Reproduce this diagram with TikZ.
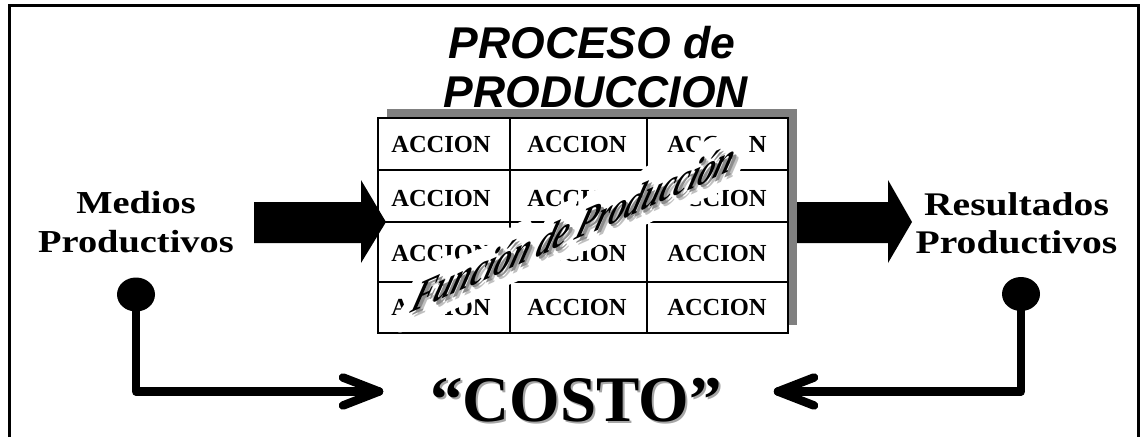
\documentclass[tikz,border=0pt]{standalone}
\usepackage{fontspec}
\setmainfont{Liberation Serif}
\newfontfamily\titlefont{Liberation Sans}
\newfontfamily\wideserif[FakeStretch=1.2]{Liberation Serif}
\newfontfamily\halofam[BoldItalicFeatures={FakeBold=80}]{Liberation Serif}
\usetikzlibrary{calc,shapes.geometric}
\definecolor{shadowgray}{RGB}{128,128,128}
\tikzset{
  cellline/.style={draw=black, line width=1.1pt},
  actxt/.style={font=\fontsize{24.5}{28}\selectfont\bfseries, inner sep=0pt, anchor=base},
  sidetxt/.style={font=\wideserif\fontsize{32}{39}\selectfont\bfseries, inner sep=0pt, anchor=base},
  sidetxtR/.style={font=\wideserif\fontsize{33}{39}\selectfont\bfseries, inner sep=0pt, anchor=base},
  titletxt/.style={font=\titlefont\fontsize{44.5}{49}\selectfont\bfseries\itshape, inner sep=0pt, anchor=base},
  slantup/.style={cm={0.915,0.404,0.42,1.27,(0,0)}},
  fptxt/.style={font=\fontsize{35.8}{40}\selectfont\bfseries\itshape, inner sep=0pt, anchor=base, slantup},
  fphalo/.style={font=\halofam\fontsize{35.8}{40}\selectfont\bfseries\itshape, inner sep=0pt, anchor=base, slantup, text=white},
  costotxt/.style={font=\fontsize{65}{70}\selectfont\bfseries, inner sep=0pt, anchor=base},
  conn/.style={line width=8.5pt, line cap=round, line join=round},
  dotnode/.style={ellipse, fill=black, minimum width=38pt, minimum height=34pt, inner sep=0pt},
  blockarrow/.style={fill=black},
}
\begin{document}
\begin{tikzpicture}[x=1pt,y=-1pt]
\useasboundingbox (0,0) rectangle (1141,437);
\fill[white] (0,0) rectangle (1141,437);
% frame (open at bottom)
\draw[line width=3pt, line join=miter] (9.5,437) -- (9.5,5.5) -- (1138.5,5.5) -- (1138.5,437);

% title
\node[titletxt] (title1) at (592,58) {PROCESO de};
\node[titletxt] (title2) at (596,107) {PRODUCCION};

% right block arrow (behind table)
\fill[blockarrow] (790,202) -- (888,202) -- (888,180) -- (912,222) -- (888,263) -- (888,243) -- (790,243) -- cycle;

% table shadow and table
\fill[shadowgray] (387,109) rectangle (797,325);
\fill[white] (378,118) rectangle (788,333);
\draw[cellline] (378,118) rectangle (788,333);
\draw[cellline] (510,118) -- (510,333);
\draw[cellline] (647,118) -- (647,333);
\draw[cellline] (378,170) -- (788,170);
\draw[cellline] (378,222) -- (788,222);
\draw[cellline] (378,282) -- (788,282);

\foreach \y [count=\r] in {152.7,206.7,261.7,315}{
  \foreach \x [count=\c] in {441,577,717}{
    \node[actxt] (a\r\c) at (\x,\y) {ACCION};
  }
}

% overlay text (slanted up) with white halo and soft shadow
\begin{scope}[line join=round, miter limit=1]
\node[fphalo] (fphalo) at (570,242.5) {Función de Producción};
\end{scope}
\node[fptxt, text=black!25] (fpshadow2) at (574.5,247) {Función de Producción};
\node[fptxt, text=black!45] (fpshadow) at (572.5,245) {Función de Producción};
\node[fptxt] (fp) at (570,242.5) {Función de Producción};

% left block arrow (over table edge)
\fill[blockarrow] (254,202) -- (361,202) -- (361,180) -- (386,222) -- (361,263) -- (361,243) -- (254,243) -- cycle;

% side texts
\node[sidetxt] (medios1) at (136,213) {Medios};
\node[sidetxt] (medios2) at (136,252) {Productivos};
\node[sidetxtR] (result1) at (1016.5,215) {Resultados};
\node[sidetxtR] (result2) at (1016.5,253) {Productivos};

% COSTO
\node[costotxt, text=black!35] (costoshadow) at (578,423.5) {“COSTO”};
\node[costotxt] (costo) at (576,421.5) {“COSTO”};

% connectors
\node[dotnode] (dotL) at (136,294.5) {};
\node[dotnode] (dotR) at (1021,294) {};
\coordinate (tipL) at (379,391.5);
\coordinate (tipR) at (778,391.5);
\draw[conn] (dotL.center) |- (tipL);
\draw[conn] ($(tipL)+(-36,-14)$) -- (tipL) -- ($(tipL)+(-36,14)$);
\draw[conn] (dotR.center) |- (tipR);
\draw[conn] ($(tipR)+(36,-14)$) -- (tipR) -- ($(tipR)+(36,14)$);
\end{tikzpicture}
\end{document}
